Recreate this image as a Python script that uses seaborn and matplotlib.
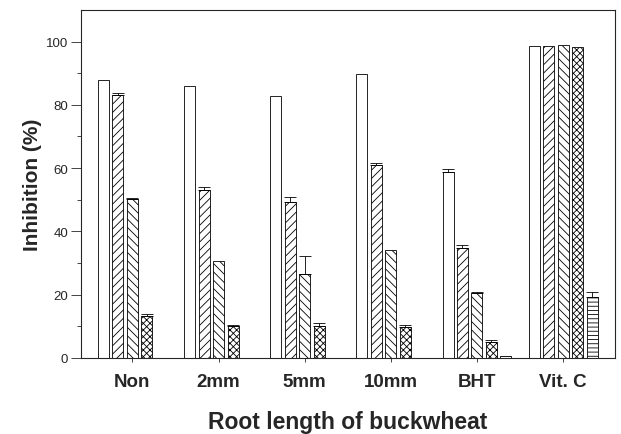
import pandas as pd
import seaborn as sns
import matplotlib.pyplot as plt
import numpy as np

# Data
groups = ['Non', '2mm', '5mm', '10mm', 'BHT', 'Vit. C']
series = ['s1', 's2', 's3', 's4', 's5']
values = {
    's1': [87.8, 86.0, 82.8, 89.6, 58.8, 98.5],
    's2': [83.0, 53.0, 49.4, 60.9, 34.8, 98.5],
    's3': [50.3, 30.7, 26.4, 34.1, 20.4, 98.8],
    's4': [13.3, 10.0, 10.0, 9.9, 5.0, 98.3],
    's5': [0.0, 0.0, 0.0, 0.0, 0.5, 19.3],
}
errors = {
    's1': [0.0, 0.0, 0.0, 0.0, 0.8, 0.0],
    's2': [0.8, 1.0, 1.5, 0.8, 0.8, 0.0],
    's3': [0.3, 0.0, 5.9, 0.0, 0.4, 0.0],
    's4': [0.7, 0.4, 1.0, 0.6, 0.5, 0.0],
    's5': [0.0, 0.0, 0.0, 0.0, 0.0, 1.5],
}
hatches = ['', '////', '\\\\\\\\', 'xxxxx', '----']

rows = []
for s in series:
    for g, v, e in zip(groups, values[s], errors[s]):
        rows.append({'group': g, 'series': s, 'value': v, 'err': e})
df = pd.DataFrame(rows)

sns.set_style('ticks')
plt.rcParams['font.family'] = ['Liberation Sans', 'DejaVu Sans']
plt.rcParams['hatch.linewidth'] = 0.6

fig, ax = plt.subplots(figsize=(6.21, 4.35), dpi=100)
fig.subplots_adjust(left=0.13, right=0.99, top=0.975, bottom=0.175)

sns.barplot(data=df, x='group', y='value', hue='series', hue_order=series,
            palette=['white'] * 5, edgecolor='black', linewidth=0.6,
            width=0.84, gap=0.24, errorbar=None, legend=False, ax=ax)

# hatches + upward error bars
for cont, s, h in zip(ax.containers, series, hatches):
    for bar, e in zip(cont, errors[s]):
        bar.set_hatch(h)
        if e > 0:
            xc = bar.get_x() + bar.get_width() / 2
            ax.errorbar(xc, bar.get_height(), yerr=[[0], [e]], color='black',
                        lw=0.6, capsize=4, capthick=0.6)

ax.set_xlim(-0.6, 5.6)
ax.set_ylim(0, 110)
ax.set_yticks([0, 20, 40, 60, 80, 100])
ax.set_yticks(np.arange(10, 110, 20), minor=True)
ax.tick_params(axis='y', which='major', length=7, width=0.6, labelsize=9.5, pad=2)
ax.tick_params(axis='y', which='minor', length=3, width=0.6)
ax.tick_params(axis='x', length=3, width=0.6, pad=8)
for lab in ax.get_xticklabels():
    lab.set_fontsize(13.5)
    lab.set_fontweight('bold')
for sp in ax.spines.values():
    sp.set_linewidth(0.8)
    sp.set_visible(True)

ax.set_ylabel('Inhibition (%)', fontsize=15, fontweight='bold')
ax.yaxis.set_label_coords(-0.072, 0.5)
ax.set_xlabel('Root length of buckwheat', fontsize=16.5, fontweight='bold')
ax.xaxis.set_label_coords(0.5, -0.15)

fig.savefig('out.png', dpi=100)
